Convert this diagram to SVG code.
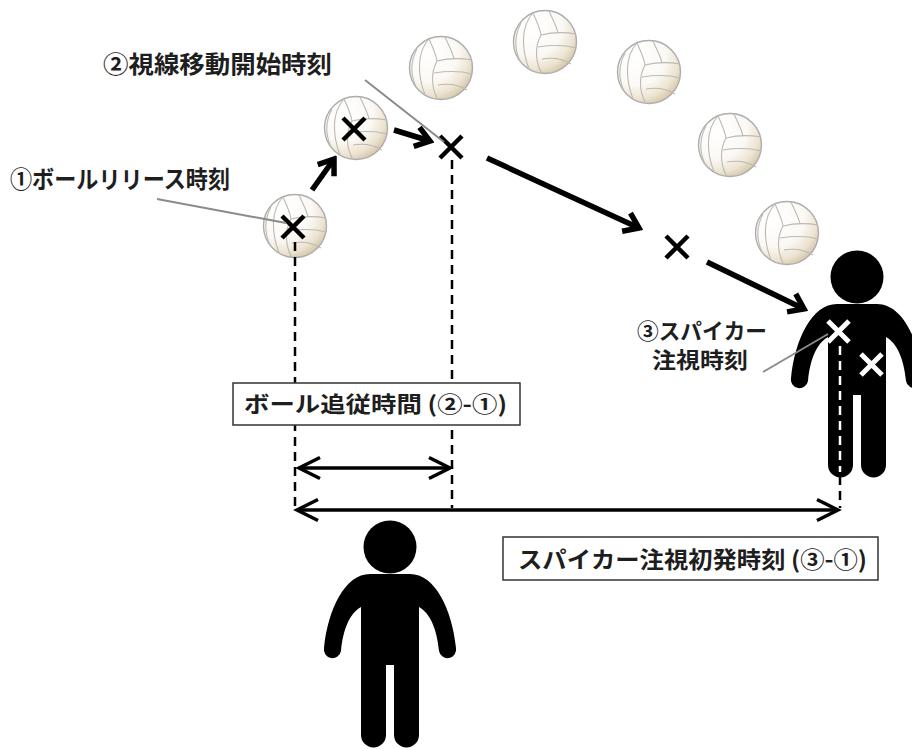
<svg xmlns="http://www.w3.org/2000/svg" width="912" height="749" viewBox="0 0 912 749">
  <style>
    .lbl { font-family: "Noto Sans CJK JP", "Liberation Sans", sans-serif; font-weight: bold; fill: #1e1e1e; }
    .thick { fill: none; stroke: #000; stroke-width: 5.5; }
    .span { fill: none; stroke: #000; stroke-width: 3.5; }
    .dash { fill: none; stroke: #000; stroke-width: 2.5; stroke-dasharray: 9 6; }
    .dash-w { fill: none; stroke: #fff; stroke-width: 2.5; stroke-dasharray: 9 6; }
    .leader { fill: none; stroke: #8a8a8a; stroke-width: 2; }
    .xk { fill: none; stroke: #000; stroke-width: 4.5; }
    .xw { fill: none; stroke: #fff; stroke-width: 5; }
    .box { fill: #fff; stroke: #333; stroke-width: 1.5; }
    .person { fill: #000; }
  </style>
  <defs>
    <radialGradient id="ballGrad" cx="0.3" cy="0.25" r="0.85">
      <stop offset="0" stop-color="#ffffff"/>
      <stop offset="0.55" stop-color="#fbf9f5"/>
      <stop offset="0.8" stop-color="#ece3d1"/>
      <stop offset="1" stop-color="#cfc09f"/>
    </radialGradient>
    <!-- volleyball, centred on the origin -->
    <g id="vb">
      <circle r="31.5" fill="url(#ballGrad)" stroke="#adadad" stroke-width="1.4"/>
      <g fill="none" stroke="#bdb9b2" stroke-width="1.1">
        <path d="M-12,-29 C-8,-20 -5,-14 -4,-7"/>
        <path d="M4,-31 C8,-22 12,-15 13,-9"/>
        <path d="M-4,-7 C8,-10 20,-10 31,-8"/>
        <path d="M-7,5 C6,3 20,3 31,6"/>
        <path d="M-3,17 C8,15 18,17 26,22"/>
        <path d="M-4,-7 C-10,4 -10,18 -4,30"/>
        <path d="M-12,-29 C-24,-16 -24,6 -16,27"/>
        <path d="M-24,-19 C-31,-6 -30,8 -25,19"/>
      </g>
    </g>
    <!-- pictogram person, head centre at the origin -->
    <g id="fig">
      <circle cx="0" cy="0" r="26.5"/>
      <path d="M-20,27 L20,27 C45,27 62,62 66,101 A8.5,8.5 0 0 1 49,104 C47,82 40,66 29,60 L29,188 A12.5,12.5 0 0 1 4,188 L4,118 L-4,118 L-4,188 A12.5,12.5 0 0 1 -29,188 L-29,60 C-40,66 -47,82 -49,104 A8.5,8.5 0 0 1 -66,101 C-62,62 -45,27 -20,27 Z"/>
    </g>
    <marker id="headThick" viewBox="-18 -13 22 26" markerWidth="22" markerHeight="26" refX="0" refY="0" orient="auto" markerUnits="userSpaceOnUse">
      <path d="M-14,-10 L0,0 L-14,10" fill="none" stroke="#000" stroke-width="5.5"/>
    </marker>
    <marker id="headSpan" viewBox="-24 -13 28 26" markerWidth="28" markerHeight="26" refX="0" refY="0" orient="auto-start-reverse" markerUnits="userSpaceOnUse">
      <path d="M-21,-10.5 L0,0 L-21,10.5" fill="none" stroke="#000" stroke-width="3.5"/>
    </marker>
  </defs>

  <!-- ball trajectory -->
  <g id="ball-1"><use href="#vb" x="295" y="226"/></g>
  <g id="ball-2"><use href="#vb" x="356" y="128"/></g>
  <g id="ball-3"><use href="#vb" x="441" y="68"/></g>
  <g id="ball-4"><use href="#vb" x="545" y="42"/></g>
  <g id="ball-5"><use href="#vb" x="649" y="72"/></g>
  <g id="ball-6"><use href="#vb" x="730" y="145"/></g>
  <g id="ball-7"><use href="#vb" x="787" y="233"/></g>

  <!-- players -->
  <g id="spiker" class="person"><use href="#fig" x="857" y="277"/></g>
  <g id="setter" class="person"><use href="#fig" x="390" y="547"/></g>

  <!-- gaze points -->
  <g id="gaze-1"><path class="xk" d="M282,216 L304,238 M304,216 L282,238"/></g>
  <g id="gaze-2"><path class="xk" d="M343,118 L365,140 M365,118 L343,140"/></g>
  <g id="gaze-3"><path class="xk" d="M440,136 L462,158 M462,136 L440,158"/></g>
  <g id="gaze-4"><path class="xk" d="M666,236 L688,258 M688,236 L666,258"/></g>

  <g id="connectors">
    <!-- gaze movement -->
    <path class="thick" d="M312,190 L334,159" marker-end="url(#headThick)"/>
    <path class="thick" d="M394,130 L430,141" marker-end="url(#headThick)"/>
    <path class="thick" d="M487,158 L639,228" marker-end="url(#headThick)"/>
    <path class="thick" d="M707,262 L804,309" marker-end="url(#headThick)"/>
    <!-- time markers -->
    <path class="dash" d="M295,242 L295,508"/>
    <path class="dash" d="M452,160 L452,508"/>
    <path class="dash" d="M840,476 L840,508"/>
    <path class="span" d="M299,468 L450,468" marker-start="url(#headSpan)" marker-end="url(#headSpan)"/>
    <path class="span" d="M297,510 L838,510" marker-start="url(#headSpan)" marker-end="url(#headSpan)"/>
    <!-- label leaders -->
    <path class="leader" d="M157,199 L286,223"/>
    <path class="leader" d="M365,80 L444,142"/>
    <path class="leader" d="M763,372 L828,334"/>
  </g>

  <!-- marks on the spiker -->
  <g id="spiker-marks">
    <path class="dash-w" d="M840,346 L840,472"/>
    <path class="xw" d="M828,321 L849,342 M849,321 L828,342"/>
    <path class="xw" d="M861,354 L882,375 M882,354 L861,375"/>
  </g>

  <!-- labels -->
  <g id="label-2"><text class="lbl" x="103" y="73" font-size="24" textLength="229" lengthAdjust="spacingAndGlyphs">②視線移動開始時刻</text></g>
  <g id="label-1"><text class="lbl" x="10" y="188" font-size="24" textLength="220" lengthAdjust="spacingAndGlyphs">①ボールリリース時刻</text></g>
  <g id="label-3">
    <text class="lbl" x="637" y="339" font-size="22" textLength="130" lengthAdjust="spacingAndGlyphs">③スパイカー</text>
    <text class="lbl" x="652" y="368" font-size="22" textLength="96" lengthAdjust="spacingAndGlyphs">注視時刻</text>
  </g>
  <g id="box-tracking">
    <rect class="box" x="233" y="383" width="287" height="42"/>
    <text class="lbl" x="244" y="412" font-size="22" textLength="263" lengthAdjust="spacingAndGlyphs">ボール追従時間 (②-①)</text>
  </g>
  <g id="box-first-look">
    <rect class="box" x="503" y="537" width="375" height="43"/>
    <text class="lbl" x="518" y="568" font-size="23" textLength="349" lengthAdjust="spacingAndGlyphs">スパイカー注視初発時刻 (③-①)</text>
  </g>
</svg>
